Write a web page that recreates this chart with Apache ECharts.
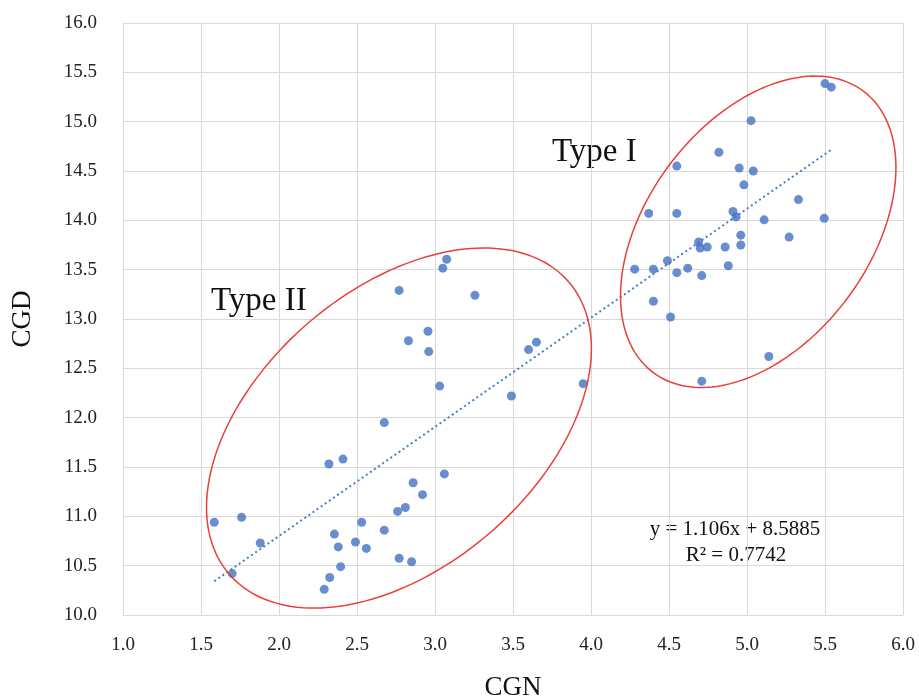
<!DOCTYPE html>
<html>
<head>
<meta charset="utf-8">
<script src="https://cdn.jsdelivr.net/npm/echarts@6/dist/echarts.min.js"></script>
<style>html,body{margin:0;padding:0;background:#fff}#c{width:919px;height:699px}</style>
</head>
<body>
<div id="c"></div>
<script>
// Type I cluster
const cgnTypeI = [5.50, 5.54, 5.026, 4.82, 4.55, 4.95, 5.04, 4.98, 5.33, 4.37, 4.55, 4.91, 4.93, 5.11, 5.495, 4.96, 5.27, 4.69, 4.70, 4.745, 4.86, 4.96, 4.49, 4.62, 4.28, 4.40, 4.55, 4.71, 4.88, 4.40, 4.51, 5.14, 4.71];
const cgdTypeI = [15.386, 15.35, 15.01, 14.69, 14.55, 14.53, 14.50, 14.36, 14.21, 14.07, 14.07, 14.09, 14.035, 14.005, 14.02, 13.85, 13.83, 13.78, 13.72, 13.73, 13.73, 13.75, 13.59, 13.515, 13.505, 13.505, 13.47, 13.44, 13.54, 13.18, 13.02, 12.62, 12.37];
// Type II cluster
const cgnTypeII = [2.675, 2.32, 2.41, 3.06, 2.86, 2.92, 2.76, 2.81, 1.585, 1.76, 1.88, 1.70, 2.53, 2.675, 2.355, 2.49, 2.38, 2.56, 2.77, 2.85, 2.395, 2.325, 2.29, 3.075, 3.05, 2.77, 3.256, 2.955, 2.83, 2.96, 3.65, 3.60, 3.03, 3.49, 3.95];
const cgdTypeII = [11.95, 11.53, 11.58, 11.43, 11.34, 11.22, 11.05, 11.09, 10.94, 10.99, 10.73, 10.42, 10.94, 10.86, 10.82, 10.74, 10.69, 10.675, 10.575, 10.54, 10.49, 10.38, 10.26, 13.605, 13.515, 13.29, 13.24, 12.876, 12.78, 12.67, 12.765, 12.69, 12.32, 12.22, 12.345];
// Linear fit
const fitSlope = 1.106;
const fitIntercept = 8.5885;
const fitLabel = ['y = 1.106x + 8.5885', 'R² = 0.7742'];
// Cluster labels and ellipse centres (data units)
const clusterNames = ['Type I', 'Type II'];
const ellipseCenters = [[5.072, 13.884], [2.769, 11.895]];

const ellipseShape = [ // semi-axes in px, tilt in degrees
  {a: 175.6, b: 111.2, deg: 53.3},
  {a: 224, b: 138.8, deg: 40.7}
];

const allX = cgnTypeI.concat(cgnTypeII);
const xmin = Math.min.apply(null, allX), xmax = Math.max.apply(null, allX);
const trend = [[xmin, fitSlope * xmin + fitIntercept], [xmax, fitSlope * xmax + fitIntercept]];

const serif = '"Liberation Serif","Times New Roman",serif';
const chart = echarts.init(document.getElementById('c'));
const pts = cgnTypeI.map((x, i) => [x, cgdTypeI[i]]).concat(cgnTypeII.map((x, i) => [x, cgdTypeII[i]]));

chart.setOption({
  animation: false,
  grid: {left: 123, right: 16, top: 23, bottom: 84, containLabel: false, outerBoundsMode: 'none'},
  xAxis: {
    type: 'value', min: 1, max: 6, interval: 0.5,
    name: 'CGN', nameLocation: 'middle', nameGap: 59,
    nameTextStyle: {fontFamily: serif, fontSize: 27, color: '#111'},
    axisLine: {show: true, lineStyle: {color: '#d9d9d9'}},
    axisTick: {show: false},
    axisLabel: {fontFamily: serif, fontSize: 19, color: '#222', margin: 21, formatter: v => v.toFixed(1)},
    splitLine: {show: true, lineStyle: {color: '#d9d9d9', width: 1}}
  },
  yAxis: {
    type: 'value', min: 10, max: 16, interval: 0.5,
    name: 'CGD', nameLocation: 'middle', nameGap: 87, nameRotate: 90,
    nameTextStyle: {fontFamily: serif, fontSize: 27, color: '#111'},
    axisLine: {show: true, lineStyle: {color: '#d9d9d9'}},
    axisTick: {show: false},
    axisLabel: {fontFamily: serif, fontSize: 19, color: '#222', margin: 26, formatter: v => v.toFixed(1)},
    splitLine: {show: true, lineStyle: {color: '#d9d9d9', width: 1}}
  },
  series: [
    {
      type: 'scatter', data: pts, symbolSize: 9,
      itemStyle: {color: '#4472c4'}, z: 3
    },
    {
      type: 'line', data: trend, symbol: 'none', z: 2,
      lineStyle: {color: '#4a7cc4', width: 2, type: [2, 3]}
    },
    {
      type: 'custom', clip: false, z: 4,
      data: ellipseCenters,
      renderItem: function (params, api) {
        const c = api.coord([api.value(0), api.value(1)]);
        const e = ellipseShape[params.dataIndex];
        const th = e.deg * Math.PI / 180;
        const ct = Math.cos(th), st = Math.sin(th);
        const points = [];
        for (let k = 0; k < 180; k++) {
          const t = k / 180 * Math.PI * 2;
          const ca = Math.cos(t), sa = Math.sin(t);
          points.push([c[0] + e.a * ct * ca - e.b * st * sa, c[1] - (e.a * st * ca + e.b * ct * sa)]);
        }
        return {type: 'polygon', shape: {points: points}, style: {fill: 'none', stroke: '#e8403a', lineWidth: 1.5}};
      }
    }
  ],
  graphic: [
    {type: 'text', x: 552, y: 152, style: {text: clusterNames[0], font: '33px ' + serif, fill: '#111', textVerticalAlign: 'middle'}},
    {type: 'text', x: 211, y: 301, style: {text: clusterNames[1], font: '33px ' + serif, fill: '#111', textVerticalAlign: 'middle'}},
    {type: 'text', x: 735, y: 529, style: {text: fitLabel[0], font: '21px ' + serif, fill: '#111', textAlign: 'center', textVerticalAlign: 'middle'}},
    {type: 'text', x: 736, y: 555, style: {text: fitLabel[1], font: '21px ' + serif, fill: '#111', textAlign: 'center', textVerticalAlign: 'middle'}}
  ]
});
</script>
</body>
</html>
